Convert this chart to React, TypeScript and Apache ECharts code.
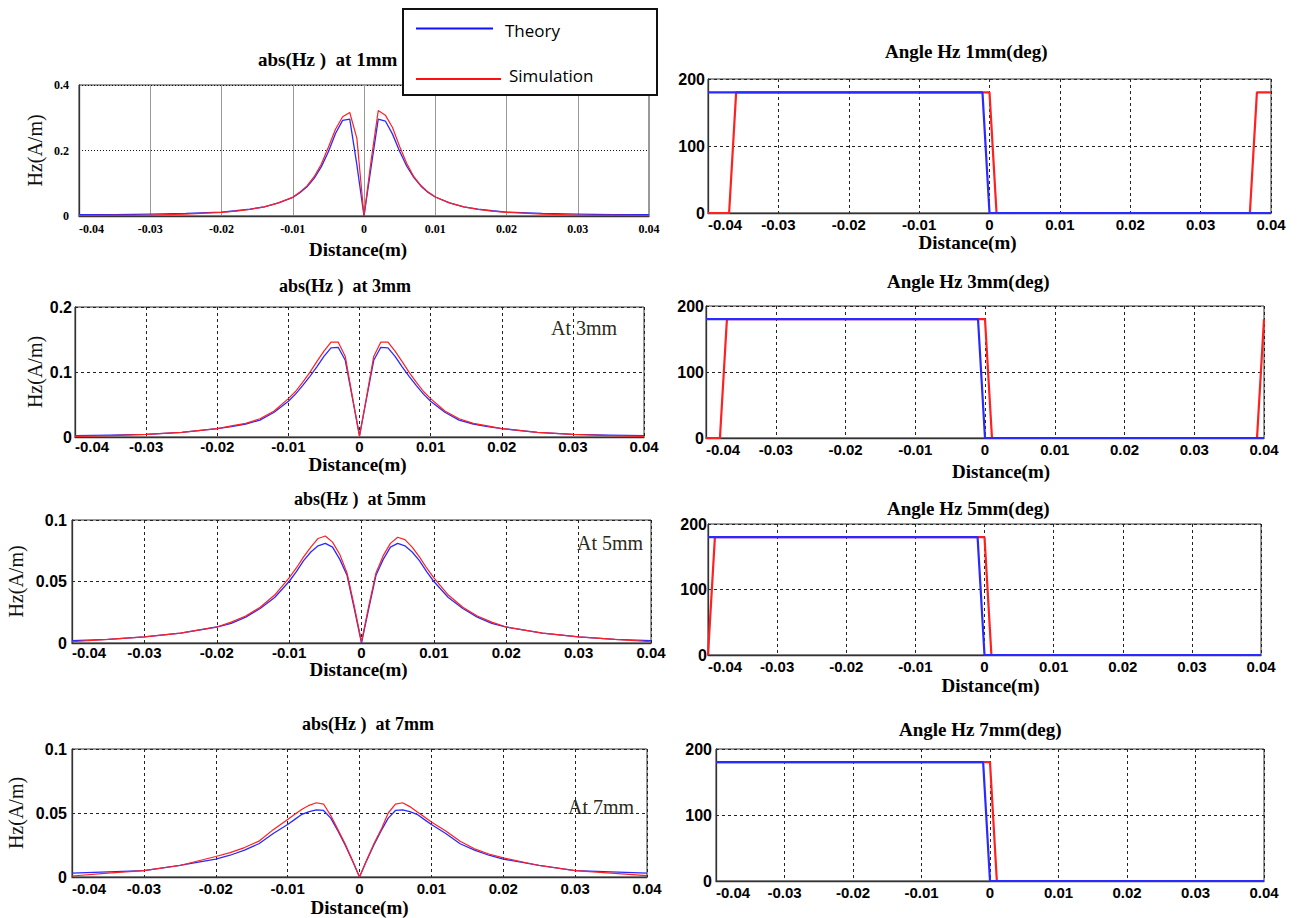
import React, { useEffect, useRef } from "react";
import * as echarts from "echarts";

// ---------- data ----------
const X_ABS = [
  -0.04, -0.035, -0.03, -0.025, -0.02, -0.018, -0.016, -0.014, -0.012, -0.01,
  -0.009, -0.008, -0.007, -0.006, -0.005, -0.004, -0.003, -0.002, -0.001, 0,
  0.001, 0.002, 0.003, 0.004, 0.005, 0.006, 0.007, 0.008, 0.009, 0.01,
  0.012, 0.014, 0.016, 0.018, 0.02, 0.025, 0.03, 0.035, 0.04,
];

const abs1Theory = [
  0.004, 0.004, 0.006, 0.008, 0.012, 0.016, 0.021, 0.028, 0.04, 0.057,
  0.071, 0.089, 0.115, 0.15, 0.196, 0.252, 0.292, 0.296, 0.156, 0,
  0.15, 0.296, 0.29, 0.25, 0.198, 0.152, 0.117, 0.091, 0.072, 0.058,
  0.04, 0.028, 0.021, 0.016, 0.012, 0.008, 0.006, 0.004, 0.004,
];
const abs1Sim = [
  0.001, 0.002, 0.003, 0.006, 0.011, 0.015, 0.02, 0.028, 0.04, 0.057,
  0.073, 0.092, 0.12, 0.158, 0.21, 0.265, 0.303, 0.316, 0.237, 0,
  0.17, 0.322, 0.308, 0.27, 0.212, 0.16, 0.12, 0.093, 0.073, 0.058,
  0.04, 0.028, 0.02, 0.015, 0.011, 0.006, 0.003, 0.002, 0.001,
];
const abs3Theory = [
  0.002, 0.003, 0.004, 0.007, 0.013, 0.016, 0.02, 0.026, 0.038, 0.055,
  0.066, 0.079, 0.093, 0.108, 0.124, 0.137, 0.138, 0.118, 0.06, 0.002,
  0.06, 0.118, 0.138, 0.137, 0.124, 0.108, 0.093, 0.079, 0.066, 0.055,
  0.038, 0.026, 0.02, 0.016, 0.013, 0.007, 0.004, 0.003, 0.002,
];
const abs3Sim = [
  0.001, 0.002, 0.004, 0.007, 0.013, 0.017, 0.021, 0.028, 0.04, 0.059,
  0.07, 0.084, 0.099, 0.116, 0.132, 0.146, 0.146, 0.124, 0.062, 0.001,
  0.062, 0.124, 0.146, 0.146, 0.132, 0.116, 0.099, 0.084, 0.07, 0.059,
  0.04, 0.028, 0.021, 0.017, 0.013, 0.007, 0.004, 0.002, 0.001,
];
const abs5Theory = [
  0.002, 0.003, 0.005, 0.008, 0.013, 0.016, 0.021, 0.028, 0.037, 0.05,
  0.058, 0.067, 0.074, 0.079, 0.081, 0.078, 0.068, 0.055, 0.028, 0,
  0.028, 0.055, 0.068, 0.078, 0.081, 0.079, 0.074, 0.067, 0.058, 0.05,
  0.037, 0.028, 0.021, 0.016, 0.013, 0.008, 0.005, 0.003, 0.002,
];
const abs5Sim = [
  0.001, 0.003, 0.005, 0.008, 0.013, 0.017, 0.022, 0.029, 0.039, 0.053,
  0.061, 0.07, 0.078, 0.085, 0.087, 0.082, 0.072, 0.057, 0.03, 0.001,
  0.03, 0.057, 0.071, 0.081, 0.086, 0.084, 0.078, 0.07, 0.061, 0.053,
  0.039, 0.029, 0.022, 0.017, 0.013, 0.008, 0.005, 0.003, 0.001,
];
const abs7Theory = [
  0.003, 0.004, 0.005, 0.009, 0.014, 0.017, 0.021, 0.026, 0.034, 0.041,
  0.045, 0.049, 0.051, 0.0525, 0.052, 0.046, 0.036, 0.025, 0.013, 0,
  0.013, 0.025, 0.036, 0.046, 0.052, 0.0525, 0.051, 0.049, 0.045, 0.041,
  0.034, 0.026, 0.021, 0.017, 0.014, 0.009, 0.005, 0.004, 0.003,
];
const abs7Sim = [
  0.0008, 0.003, 0.005, 0.009, 0.016, 0.019, 0.023, 0.028, 0.037, 0.045,
  0.049, 0.053, 0.056, 0.058, 0.057, 0.048, 0.037, 0.026, 0.013, 0,
  0.013, 0.026, 0.037, 0.05, 0.057, 0.058, 0.055, 0.051, 0.047, 0.043,
  0.036, 0.028, 0.022, 0.018, 0.015, 0.009, 0.005, 0.003, 0.001,
];

// angle (deg)
const angTheoryX = [-0.04, -0.001, 0, 0.04];
const angTheoryY = [180, 180, 0, 0];

const ang1SimX = [-0.04, -0.037, -0.036, 0, 0.001, 0.037, 0.038, 0.04];
const ang1SimY = [0, 0, 180, 180, 0, 0, 180, 180];
const ang3SimX = [-0.04, -0.038, -0.037, 0, 0.001, 0.039, 0.04];
const ang3SimY = [0, 0, 180, 180, 0, 0, 180];
const ang5SimX = [-0.04, -0.039, 0, 0.001, 0.04];
const ang5SimY = [0, 180, 180, 0, 0];
const ang7SimX = [-0.04, 0, 0.001, 0.04];
const ang7SimY = [180, 180, 0, 0];

const X_TICKS_MIN = -0.04;
const X_TICKS_MAX = 0.04;
const X_TICKS_STEP = 0.01;

// ---------- helpers ----------
const pairs = (xs: number[], ys: number[]) => xs.map((x, i) => [x, ys[i]]);
const fmt = (v: number) => String(parseFloat(v.toFixed(3)));

const SERIF = "'Liberation Serif', 'Times New Roman', serif";
const SANS = "'Liberation Sans', Arial, sans-serif";
const BLUE = "#2a2aff";
const RED = "#ff2020";

type Panel = {
  kind: "abs" | "angle";
  box: [number, number, number, number];
  yMax: number;
  yStep: number;
  title: string;
  titlePos: [number, number, number];
  theory: number[][];
  sim: number[][];
  small?: boolean;
  xName?: string;
  xNameGap?: number;
  xShift?: number;
  yNameGap?: number;
  xLabelMargin: number;
  yLabelMargin: number;
};

const PANELS: Panel[] = [
  {
    kind: "abs", box: [79, 85, 570, 131], yMax: 0.4, yStep: 0.2,
    title: "abs(Hz )  at 1mm", titlePos: [258, 61, 19],
    theory: pairs(X_ABS, abs1Theory), sim: pairs(X_ABS, abs1Sim), small: true,
    xName: "Distance(m)", xNameGap: 24, xShift: -6, yNameGap: 34,
    xLabelMargin: 7, yLabelMargin: 10,
  },
  {
    kind: "angle", box: [708, 79, 563, 134], yMax: 200, yStep: 100,
    title: "Angle Hz 1mm(deg)", titlePos: [885, 53, 19],
    theory: pairs(angTheoryX, angTheoryY), sim: pairs(ang1SimX, ang1SimY),
    xName: "Distance(m)", xNameGap: 20, xShift: -22,
    xLabelMargin: 4, yLabelMargin: 3,
  },
  {
    kind: "abs", box: [75, 307, 569, 130], yMax: 0.2, yStep: 0.1,
    title: "abs(Hz )  at 3mm", titlePos: [279, 288, 18],
    theory: pairs(X_ABS, abs3Theory), sim: pairs(X_ABS, abs3Sim),
    xName: "Distance(m)", xNameGap: 18, xShift: -2, yNameGap: 30,
    xLabelMargin: 2, yLabelMargin: 3,
  },
  {
    kind: "angle", box: [706, 306, 558, 132], yMax: 200, yStep: 100,
    title: "Angle Hz 3mm(deg)", titlePos: [887, 283, 19],
    theory: pairs(angTheoryX, angTheoryY), sim: pairs(ang3SimX, ang3SimY),
    xName: "Distance(m)", xNameGap: 24, xShift: 16,
    xLabelMargin: 4, yLabelMargin: 2,
  },
  {
    kind: "abs", box: [72, 520, 579, 123], yMax: 0.1, yStep: 0.05,
    title: "abs(Hz )  at 5mm", titlePos: [294, 501, 18],
    theory: pairs(X_ABS, abs5Theory), sim: pairs(X_ABS, abs5Sim),
    xName: "Distance(m)", xNameGap: 17, xShift: -3, yNameGap: 46,
    xLabelMargin: 2, yLabelMargin: 5,
  },
  {
    kind: "angle", box: [708, 524, 553, 131], yMax: 200, yStep: 100,
    title: "Angle Hz 5mm(deg)", titlePos: [887, 510, 19],
    theory: pairs(angTheoryX, angTheoryY), sim: pairs(ang5SimX, ang5SimY),
    xName: "Distance(m)", xNameGap: 21, xShift: 6,
    xLabelMargin: 4, yLabelMargin: 1,
  },
  {
    kind: "abs", box: [72, 749, 575, 128], yMax: 0.1, yStep: 0.05,
    title: "abs(Hz )  at 7mm", titlePos: [302, 726, 18],
    theory: pairs(X_ABS, abs7Theory), sim: pairs(X_ABS, abs7Sim),
    xName: "Distance(m)", xNameGap: 21, xShift: 0, yNameGap: 46,
    xLabelMargin: 4, yLabelMargin: 5,
  },
  {
    kind: "angle", box: [716, 749, 548, 132], yMax: 200, yStep: 100,
    title: "Angle Hz 7mm(deg)", titlePos: [899, 731, 19],
    theory: pairs(angTheoryX, angTheoryY), sim: pairs(ang7SimX, ang7SimY),
    xLabelMargin: 4, yLabelMargin: 4,
  },
];

const NOTES: [string, number, number][] = [
  ["At 3mm", 551, 328],
  ["At 5mm", 577, 543],
  ["At 7mm", 568, 807],
];

function buildOption() {
  const grid: any[] = [];
  const xAxis: any[] = [];
  const yAxis: any[] = [];
  const series: any[] = [];
  const title: any[] = [];

  PANELS.forEach((p, i) => {
    const [left, top, width, height] = p.box;
    grid.push({
      left, top, width, height,
      show: true, borderColor: "#333", borderWidth: 1,
      backgroundColor: "transparent",
      containLabel: false, outerBoundsMode: "none",
    });

    const dashed = { type: [3, 3], color: "#222", width: 1 };
    const xSplit = p.small
      ? { show: true, lineStyle: { type: "solid", color: "#999", width: 1 } }
      : { show: true, lineStyle: dashed };
    const ySplit = p.small
      ? { show: true, lineStyle: { type: [1, 2], color: "#111", width: 1 } }
      : { show: true, lineStyle: dashed };

    const xLabelFont = p.small
      ? { fontFamily: SERIF, fontWeight: "bold", fontSize: 12 }
      : { fontFamily: SANS, fontWeight: "bold", fontSize: 15 };
    const yLabelFont = p.small
      ? { fontFamily: SERIF, fontWeight: "bold", fontSize: 12 }
      : { fontFamily: SANS, fontWeight: "bold", fontSize: 16 };

    const shift = p.xShift || 0;
    xAxis.push({
      gridIndex: i, type: "value",
      min: X_TICKS_MIN, max: X_TICKS_MAX, interval: X_TICKS_STEP,
      axisLine: { show: true, onZero: false, lineStyle: { color: "#333", width: 1.3 } },
      axisTick: { show: false },
      splitLine: xSplit,
      axisLabel: {
        show: true, margin: p.xLabelMargin, color: "#000",
        showMinLabel: true, showMaxLabel: true, hideOverlap: false,
        alignMinLabel: "left",
        formatter: fmt, ...xLabelFont,
      },
      name: p.xName || "",
      nameLocation: "middle",
      nameGap: p.xNameGap || 0,
      nameMoveOverlap: false,
      nameTextStyle: {
        fontFamily: SERIF, fontWeight: "bold", fontSize: 19, color: "#000",
        padding: shift < 0 ? [0, -2 * shift, 0, 0] : [0, 0, 0, 2 * shift],
      },
    });

    yAxis.push({
      gridIndex: i, type: "value",
      min: 0, max: p.yMax, interval: p.yStep,
      axisLine: { show: true, onZero: false, lineStyle: { color: "#333", width: 1.3 } },
      axisTick: { show: false },
      splitLine: ySplit,
      axisLabel: {
        show: true, margin: p.yLabelMargin, color: "#000",
        showMinLabel: true, showMaxLabel: true, hideOverlap: false,
        formatter: fmt, ...yLabelFont,
      },
      name: p.kind === "abs" ? "Hz(A/m)" : "",
      nameLocation: "middle",
      nameRotate: 90,
      nameGap: p.yNameGap || 0,
      nameMoveOverlap: false,
      nameTextStyle: { fontFamily: SERIF, fontSize: 20, color: "#111" },
    });

    const isAbs = p.kind === "abs";
    const theorySeries = {
      type: "line", name: "Theory", xAxisIndex: i, yAxisIndex: i,
      data: p.theory, showSymbol: false, symbol: "none", silent: true,
      lineStyle: { color: BLUE, width: isAbs ? 1.3 : 2.2 },
      itemStyle: { color: BLUE }, z: isAbs ? 2 : 3,
    };
    const simSeries = {
      type: "line", name: "Simulation", xAxisIndex: i, yAxisIndex: i,
      data: p.sim, showSymbol: false, symbol: "none", silent: true,
      lineStyle: { color: RED, width: isAbs ? 1.2 : 2.2 },
      itemStyle: { color: RED }, z: isAbs ? 3 : 2,
    };
    series.push(theorySeries, simSeries);

    const [tx, ty, fs] = p.titlePos;
    title.push({
      text: p.title, left: tx, top: ty - fs * 0.6, padding: 0,
      textStyle: { fontFamily: SERIF, fontWeight: "bold", fontSize: fs, color: "#000" },
    });
  });

  const graphic: any[] = NOTES.map(([t, x, y]) => ({
    type: "text", x, y, z: 50,
    style: {
      text: t, fontFamily: SERIF, fontSize: 20, fill: "#2a2a1a",
      textVerticalAlign: "middle", verticalAlign: "middle",
    },
  }));

  graphic.push({
    type: "group", z: 100,
    children: [
      {
        type: "rect", z: 100,
        shape: { x: 403, y: 9, width: 254, height: 86 },
        style: { fill: "#fff", stroke: "#111", lineWidth: 2 },
      },
      {
        type: "line", z: 101,
        shape: { x1: 416, y1: 28.5, x2: 493, y2: 28.5 },
        style: { stroke: "#1010ff", lineWidth: 2 },
      },
      {
        type: "text", z: 101, x: 505, y: 30,
        style: {
          text: "Theory", fontFamily: "'Open Sans', sans-serif", fontSize: 17,
          fill: "#000", verticalAlign: "middle", textVerticalAlign: "middle",
        },
      },
      {
        type: "line", z: 101,
        shape: { x1: 416, y1: 79, x2: 501, y2: 79 },
        style: { stroke: "#ff1010", lineWidth: 2 },
      },
      {
        type: "text", z: 101, x: 509, y: 75,
        style: {
          text: "Simulation", fontFamily: "'Open Sans', sans-serif", fontSize: 17,
          fill: "#000", verticalAlign: "middle", textVerticalAlign: "middle",
        },
      },
    ],
  });

  return {
    animation: false,
    backgroundColor: "#fff",
    title,
    grid,
    xAxis,
    yAxis,
    series,
    graphic,
  };
}

export default function App() {
  const ref = useRef<HTMLDivElement>(null);
  useEffect(() => {
    document.body.style.margin = "0";
    const chart = echarts.init(ref.current as HTMLDivElement, null, { renderer: "svg" });
    chart.setOption(buildOption() as any);
    return () => chart.dispose();
  }, []);
  return <div ref={ref} style={{ width: 1301, height: 918, background: "#fff" }} />;
}
